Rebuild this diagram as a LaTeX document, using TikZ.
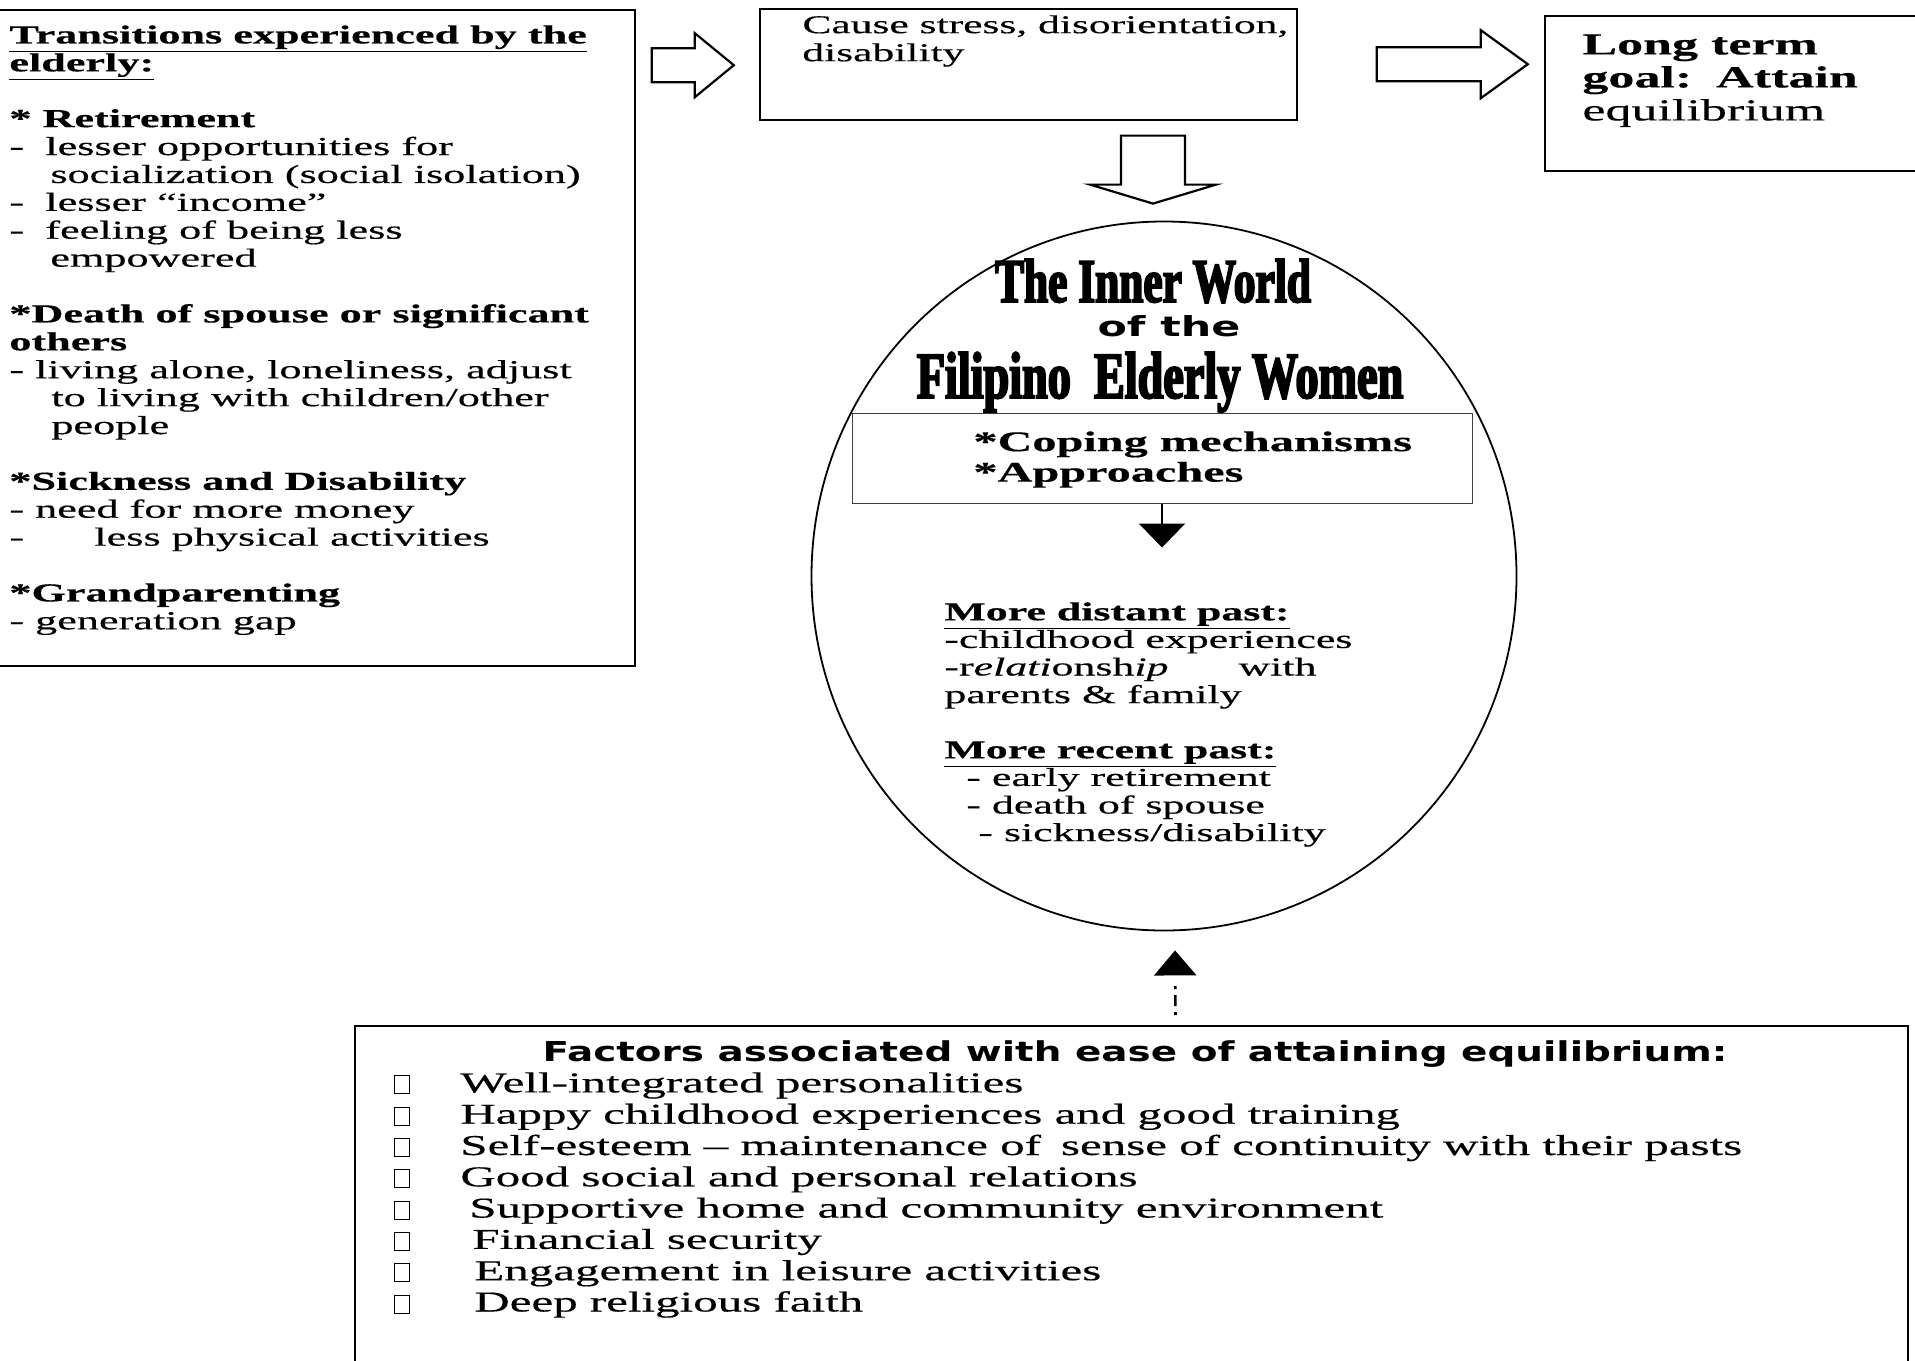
\documentclass[tikz,border=0pt]{standalone}
\usepackage{fontspec}
\setmainfont{Liberation Serif}
\newfontfamily\widefont[FakeStretch=1.7,FakeBold=0.4]{Liberation Serif}
\newfontfamily\titlefont[FakeStretch=0.7,FakeBold=3]{Liberation Serif}
\newfontfamily\ofthefont[FakeStretch=1.55]{DejaVu Sans}
\newfontfamily\headfont[FakeStretch=1.42]{DejaVu Sans}
\usetikzlibrary{calc,shapes.geometric,arrows.meta}

\newcommand{\dashin}[1]{\makebox[#1][l]{-}}
\newcommand{\chkbox}{\makebox[33pt][l]{\fboxsep=0pt\fboxrule=0.5pt\raisebox{-0.5pt}{\fbox{\rule{0pt}{8.5pt}\hspace{7pt}}}}}

\tikzset{
  boxline/.style={draw, line width=0.8pt, inner sep=0pt},
  txt/.style={inner sep=0pt, align=left, anchor=north west},
  hollow/.style={draw, line width=1.1pt, line join=miter, fill=white},
  hintline/.style={line width=1.3pt, dash pattern=on 1.5pt off 3pt on 5.5pt off 3pt on 1.5pt off 20pt,
    -{Triangle[width=21pt,length=12.5pt]}},
}

\begin{document}
\begin{tikzpicture}[x=0.5pt, y=-0.5pt]
\useasboundingbox (0,0) rectangle (1915,1360);

% the boxes
\node[boxline, minimum width=320pt, minimum height=328pt] (transbox) at (315,338) {};
\node[boxline, minimum width=268.5pt, minimum height=55.5pt] (causebox) at (1028.5,64.5) {};
\node[boxline, minimum width=195pt, minimum height=77.5pt] (goalbox) at (1740,93.5) {};
\node[boxline, minimum width=776.5pt, minimum height=187pt] (facbox) at (1131.5,1213) {};

\node[draw, ellipse, line width=0.9pt, minimum width=352.5pt, minimum height=354.5pt, inner sep=0pt] (inner) at (1164,576) {};
\node[draw=black!75, line width=0.5pt, minimum width=310pt, minimum height=45pt, inner sep=0pt] (copebox) at (1162,458) {};

% hollow block arrows
\coordinate (a1) at ($(transbox.north east)+(16,56)$);
\coordinate (a2) at ($(causebox.north east)+(79,56)$);
\coordinate (dtop) at ($(inner.north)+(-11,-85)$);

\draw[hollow] (a1) ++(0,-17) -- ++(43,0) -- ++(0,-15) -- ++(39,32) -- ++(-39,32) -- ++(0,-15) -- ++(-43,0) -- cycle;
\draw[hollow] (a2) ++(0,-17) -- ++(104,0) -- ++(0,-17) -- ++(47,34) -- ++(-47,34) -- ++(0,-17) -- ++(-104,0) -- cycle;
\draw[hollow] (dtop) ++(-32,0) -- ++(64,0) -- ++(0,49) -- ++(31,0) -- ++(-63,19) -- ++(-63,-19) -- ++(31,0) -- cycle;

% texts
\node[txt, font=\widefont\fontsize{13}{13.95}\selectfont] (translist) at (9,25) {%
\textbf{\underline{Transitions experienced by the}}\\
\textbf{\underline{elderly:}}\\[13.95pt]
\textbf{* Retirement}\\
\dashin{18pt}lesser opportunities for\\
\hspace*{20.5pt}socialization (social isolation)\\
\dashin{18pt}lesser “income”\\
\dashin{18pt}feeling of being less\\
\hspace*{20.5pt}empowered\\[13.95pt]
\textbf{*Death of spouse or significant}\\
\textbf{others}\\
- living alone, loneliness, adjust\\
\hspace*{21pt}to living with children/other\\
\hspace*{21pt}people\\[13.95pt]
\textbf{*Sickness and Disability}\\
- need for more money\\
\dashin{42.5pt}less physical activities\\[13.95pt]
\textbf{*Grandparenting}\\
- generation gap};

\node[txt, font=\widefont\fontsize{12.8}{14}\selectfont] (causetxt) at (802,15) {Cause stress, disorientation,\\ disability};

\node[txt, font=\widefont\fontsize{15.3}{16.5}\selectfont] (goaltxt) at (1582,34) {%
\textbf{Long term}\\
\textbf{goal:\hspace{12pt}Attain}\\
equilibrium};

\node[anchor=base, font=\titlefont\bfseries\fontsize{31}{31}\selectfont] (ttl1) at (1153,302) {The Inner World};
\node[anchor=base, font=\ofthefont\bfseries\fontsize{13.8}{13.8}\selectfont] (ttl2) at (1169,336) {of the};
\node[anchor=base, font=\titlefont\bfseries\fontsize{33}{33}\selectfont] (ttl3) at (1160,398) {Filipino\ \ Elderly Women};

\node[txt, font=\widefont\bfseries\fontsize{14.2}{15.25}\selectfont] (copetxt) at (973,431) {*Coping mechanisms\\ *Approaches};

\node[txt, font=\widefont\fontsize{12.9}{13.8}\selectfont] (pasttxt) at (944,602) {%
\textbf{\underline{More distant past:}}\\
-childhood experiences\\
-r\textit{elati}onsh\textit{ip}\hspace{35pt}with\\
parents \& family\\[13.8pt]
\textbf{\underline{More recent past:}}\\
\hspace*{11pt}- early retirement\\
\hspace*{11pt}- death of spouse\\
\hspace*{17pt}- sickness/disability};

\node[anchor=base, font=\headfont\bfseries\fontsize{13.7}{13.7}\selectfont] (factitle) at (1135,1061) {Factors associated with ease of attaining equilibrium:};

\node[txt, font=\widefont\fontsize{14.4}{15.65}\selectfont] (faclist) at (394,1072) {%
\chkbox Well-integrated personalities\\
\chkbox Happy childhood experiences and good training\\
\chkbox Self-esteem – maintenance of\hspace{10pt}sense of continuity with their pasts\\
\chkbox Good social and personal relations\\
\chkbox\hspace{4.5pt}Supportive home and community environment\\
\chkbox\hspace{6pt}Financial security\\
\chkbox\hspace{7pt}Engagement in leisure activities\\
\chkbox\hspace{7pt}Deep religious faith};

% connectors
\draw[line width=1.3pt, -{Triangle[width=23pt,length=12pt]}] (copebox.south) -- ($(copebox.south)+(0,44)$);
\coordinate (facin) at ($(facbox.north)+(44,-10)$);
\coordinate (facup) at ($(inner.south)+(11,19)$);
\draw[hintline] (facin) -- (facup);

\end{tikzpicture}
\end{document}
